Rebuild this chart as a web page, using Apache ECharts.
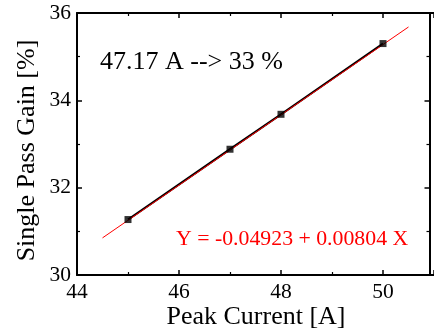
<!DOCTYPE html>
<html>
<head>
<meta charset="utf-8">
<script src="https://cdn.jsdelivr.net/npm/echarts@6/dist/echarts.min.js"></script>
<style>
html,body{margin:0;padding:0;background:#fff;}
#c{width:434px;height:333px;}
</style>
</head>
<body>
<div id="c"></div>
<script>
var peakCurrent = [45, 47, 48, 50];
var gain = [31.27, 32.88, 33.68, 35.30];
var fitX = [44.5, 50.5];
var fitY = [30.85, 35.68];
var xTickLabels = [44, 46, 48, 50];
var yTickLabels = [30, 32, 34, 36];
var xTitle = 'Peak Current [A]';
var yTitle = 'Single Pass Gain [%]';
var note = '47.17 A --> 33 %';
var fitText = 'Y = -0.04923 + 0.00804 X';

var FF = '"Liberation Serif", "Times New Roman", serif';
var chart = echarts.init(document.getElementById('c'), null, {renderer: 'canvas'});

function pairs(xs, ys) { return xs.map(function (x, i) { return [x, ys[i]]; }); }

var axisLine = {show: true, onZero: false, lineStyle: {color: '#000', width: 2}};
var tick = {show: true, inside: true, length: 5, lineStyle: {color: '#000', width: 1.5}};
var minor = {show: true, splitNumber: 2, length: 3, lineStyle: {color: '#000', width: 1.2}};

chart.setOption({
  backgroundColor: '#fff',
  animation: false,
  grid: {left: 77, top: 13, width: 360.5, height: 262, containLabel: false},
  xAxis: [{
    type: 'value', min: 44, max: 51, interval: 2, position: 'bottom',
    axisLine: axisLine, axisTick: tick, minorTick: minor, splitLine: {show: false},
    axisLabel: {show: true, customValues: xTickLabels, margin: 6, color: '#000', fontFamily: FF, fontSize: 21.5}
  }, {
    type: 'value', min: 44, max: 51, interval: 2, position: 'top',
    axisLine: axisLine, axisTick: tick, minorTick: minor, splitLine: {show: false},
    axisLabel: {show: false}
  }],
  yAxis: [{
    type: 'value', min: 30, max: 36, interval: 2, position: 'left',
    axisLine: axisLine, axisTick: tick, minorTick: minor, splitLine: {show: false},
    axisLabel: {show: true, customValues: yTickLabels, margin: 6, color: '#000', fontFamily: FF, fontSize: 21.5}
  }, {
    type: 'value', min: 30, max: 36, interval: 2, position: 'right', offset: -4.5,
    axisLine: axisLine, axisTick: tick, minorTick: minor, splitLine: {show: false},
    axisLabel: {show: false}
  }],
  series: [{
    type: 'line', xAxisIndex: 0, yAxisIndex: 0, z: 2,
    data: pairs(peakCurrent, gain), showSymbol: false, symbol: 'none',
    lineStyle: {color: '#000', width: 2.2}
  }, {
    type: 'line', xAxisIndex: 0, yAxisIndex: 0, z: 3,
    data: pairs(fitX, fitY), showSymbol: false, symbol: 'none',
    lineStyle: {color: '#ff0000', width: 1}
  }, {
    type: 'scatter', xAxisIndex: 0, yAxisIndex: 0, z: 4,
    data: pairs(peakCurrent, gain), symbol: 'rect', symbolSize: 7,
    itemStyle: {color: '#000'}
  }],
  graphic: [{
    type: 'text', x: 100, y: 62,
    style: {text: note, fill: '#000', font: '26px ' + FF, textAlign: 'left', textVerticalAlign: 'middle'}
  }, {
    type: 'text', x: 176, y: 239,
    style: {text: fitText, fill: '#ff0000', font: '21.8px ' + FF, textAlign: 'left', textVerticalAlign: 'middle'}
  }, {
    type: 'text', x: 256, y: 317,
    style: {text: xTitle, fill: '#000', font: '26px ' + FF, textAlign: 'center', textVerticalAlign: 'middle'}
  }, {
    type: 'text', x: 27, y: 150.5, rotation: Math.PI / 2,
    style: {text: yTitle, fill: '#000', font: '26px ' + FF, textAlign: 'center', textVerticalAlign: 'middle'}
  }]
});
</script>
</body>
</html>
